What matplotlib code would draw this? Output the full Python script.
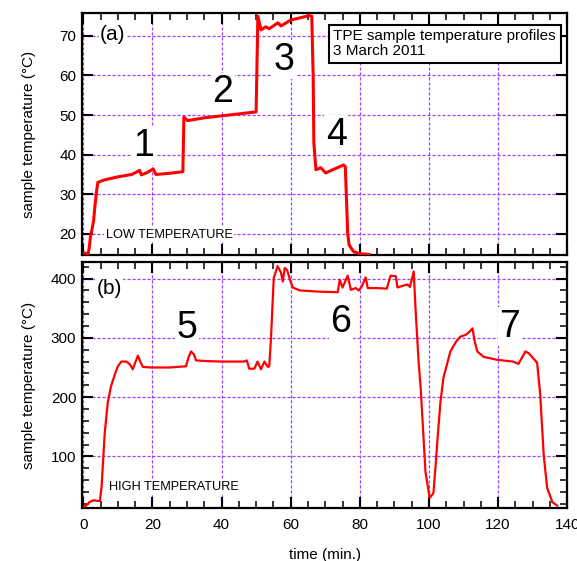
import matplotlib
matplotlib.use('Agg')
import matplotlib.pyplot as plt
from matplotlib.ticker import MultipleLocator

plt.rcParams['font.family'] = ['Liberation Sans', 'DejaVu Sans']

# panel (a): low temperature runs 1-4
low_time = [0.3, 1.4, 1.7, 2.1, 2.6, 3.0, 3.3, 3.8, 4.2, 6.0, 10.0, 14.0, 15.8, 16.3,
            16.8, 18.5, 20.2, 21.0, 25.0, 28.8, 29.1, 30.2, 35.0, 40.0, 45.0, 50.0,
            50.5, 51.4, 52.8, 53.8, 56.3, 57.2, 60.0, 62.0, 65.2, 66.1, 66.5, 66.7,
            67.3, 68.7, 70.1, 75.3, 75.8, 76.5, 76.9, 78.2, 80.0, 82.6]
low_temp = [15.2, 14.9, 16.5, 19.5, 21.5, 23.5, 26.5, 30.5, 33.0, 33.6, 34.4, 35.0, 35.8, 36.0,
            34.9, 35.5, 36.4, 35.0, 35.3, 35.7, 49.5, 48.6, 49.3, 49.8, 50.3, 50.8,
            75.0, 71.5, 72.3, 71.8, 73.3, 72.5, 74.0, 74.4, 75.1, 75.0, 60.0, 43.0,
            36.2, 36.7, 35.4, 37.4, 37.0, 20.0, 17.2, 15.5, 15.0, 14.8]

# panel (b): high temperature runs 5-7
high_time = [0.3, 1.0, 1.8, 2.9, 4.0, 4.8, 5.3, 5.8, 6.2, 7.1, 8.0, 9.1, 10.0, 11.0,
             12.5, 13.5, 14.3, 15.0, 15.8, 16.5, 17.2, 19.6, 25.0, 29.7, 30.5, 31.2,
             32.0, 32.6, 35.0, 40.0, 46.5, 47.3, 48.0, 49.5, 50.4, 51.4, 52.4, 53.4,
             53.8, 54.3, 55.1, 56.2, 57.2, 57.7, 58.3, 59.0, 59.8, 60.6, 62.6, 68.0,
             73.6, 74.2, 75.0, 76.5, 77.4, 78.8, 79.7, 80.5, 81.7, 82.3, 85.0, 87.8,
             88.9, 90.4, 90.9, 92.5, 93.8, 94.5, 95.6, 96.1, 97.0, 97.6, 99.0, 100.2,
             101.3, 102.0, 102.5, 103.3, 104.2, 106.2, 108.0, 109.1, 110.6, 111.5,
             112.6, 113.2, 114.0, 115.8, 119.7, 124.4, 125.9, 127.9, 128.9, 131.3,
             132.2, 133.2, 134.2, 135.7, 137.1]
high_temp = [15, 18, 23, 26, 25, 25, 50, 100, 140, 192, 218, 238, 252, 260,
             260, 255, 247, 258, 270, 260, 251, 250, 250, 252, 268, 277,
             272, 262, 261, 260, 260, 262, 248, 248, 260, 247, 260, 251,
             252, 300, 401, 421, 410, 395, 418, 414, 398, 385, 380, 378,
             377, 398, 385, 405, 381, 384, 380, 386, 402, 384, 384, 383,
             405, 404, 385, 388, 390, 386, 412, 351, 260, 216, 74, 30,
             38, 90, 131, 190, 233, 277, 295, 302, 305, 309,
             316, 295, 277, 268, 263, 260, 256, 277, 274, 258,
             204, 103, 47, 23, 17]

low_run_labels = ['1', '2', '3', '4']
low_run_pos = [(17.5, 39.7), (40.4, 53.3), (58.0, 61.5), (73.2, 42.5)]
high_run_labels = ['5', '6', '7']
high_run_pos = [(30.0, 300.0), (74.5, 310.0), (123.3, 302.0)]

grid_color = '#a040ff'

fig = plt.figure(figsize=(5.77, 5.61), dpi=100)
ax_a = fig.add_axes([0.142, 0.545, 0.841, 0.432])
ax_b = fig.add_axes([0.142, 0.0945, 0.841, 0.4385])


def style_axis(ax):
    for spine in ax.spines.values():
        spine.set_linewidth(1.6)
    ax.tick_params(which='both', direction='in', top=True, right=True, labelsize=11)
    ax.tick_params(which='major', length=8, width=1.5)
    ax.tick_params(which='minor', length=5, width=1.1)
    ax.tick_params(axis='x', pad=7)
    ax.tick_params(axis='y', pad=4)
    ax.grid(True, which='major', color=grid_color, linestyle=(0, (2.5, 1.5)), linewidth=0.9)
    ax.set_axisbelow(True)
    ax.set_xlim(-0.4, 140)
    ax.xaxis.set_major_locator(MultipleLocator(20))
    ax.xaxis.set_minor_locator(MultipleLocator(5))
    ax.set_ylabel('sample temperature (°C)', fontsize=11)
    ax.yaxis.set_label_coords(-0.094, 0.5)


style_axis(ax_a)
ax_a.plot(low_time, low_temp, color='#ff0000', linewidth=2.2, zorder=3)
ax_a.set_ylim(14.6, 75.8)
ax_a.yaxis.set_major_locator(MultipleLocator(10))
ax_a.tick_params(axis='x', labelbottom=False)
for lab, (tx, ty) in zip(low_run_labels, low_run_pos):
    ax_a.text(tx, ty, lab, fontsize=27, ha='center', va='baseline', zorder=2,
              bbox=dict(facecolor='white', edgecolor='none', pad=1))
ax_a.text(0.064, 0.909, '(a)', transform=ax_a.transAxes, fontsize=15, ha='center', va='center',
          bbox=dict(facecolor='white', edgecolor='none', pad=1), zorder=2)
ax_a.text(0.18, 0.085, 'LOW TEMPERATURE', transform=ax_a.transAxes, fontsize=9.2,
          ha='center', va='center',
          bbox=dict(facecolor='white', edgecolor='none', pad=1), zorder=2)
ax_a.text(0.518, 0.932, 'TPE sample temperature profiles\n3 March 2011', transform=ax_a.transAxes,
          fontsize=11, ha='left', va='top', linespacing=1.1, zorder=4,
          bbox=dict(boxstyle='square,pad=0.3', facecolor='white', edgecolor='black', linewidth=1.5))

style_axis(ax_b)
ax_b.plot(high_time, high_temp, color='#ff0000', linewidth=1.6, zorder=3)
ax_b.set_ylim(13, 428)
ax_b.yaxis.set_major_locator(MultipleLocator(100))
ax_b.yaxis.set_minor_locator(MultipleLocator(20))
for lab, (tx, ty) in zip(high_run_labels, high_run_pos):
    ax_b.text(tx, ty, lab, fontsize=27, ha='center', va='baseline', zorder=2,
              bbox=dict(facecolor='white', edgecolor='none', pad=1))
ax_b.text(0.056, 0.894, '(b)', transform=ax_b.transAxes, fontsize=15, ha='center', va='center',
          bbox=dict(facecolor='white', edgecolor='none', pad=1), zorder=2)
ax_b.text(0.19, 0.085, 'HIGH TEMPERATURE', transform=ax_b.transAxes, fontsize=9.2,
          ha='center', va='center',
          bbox=dict(facecolor='white', edgecolor='none', pad=1), zorder=2)
ax_b.set_xlabel('time (min.)', fontsize=11, labelpad=12)

fig.savefig('out.png', dpi=100)
